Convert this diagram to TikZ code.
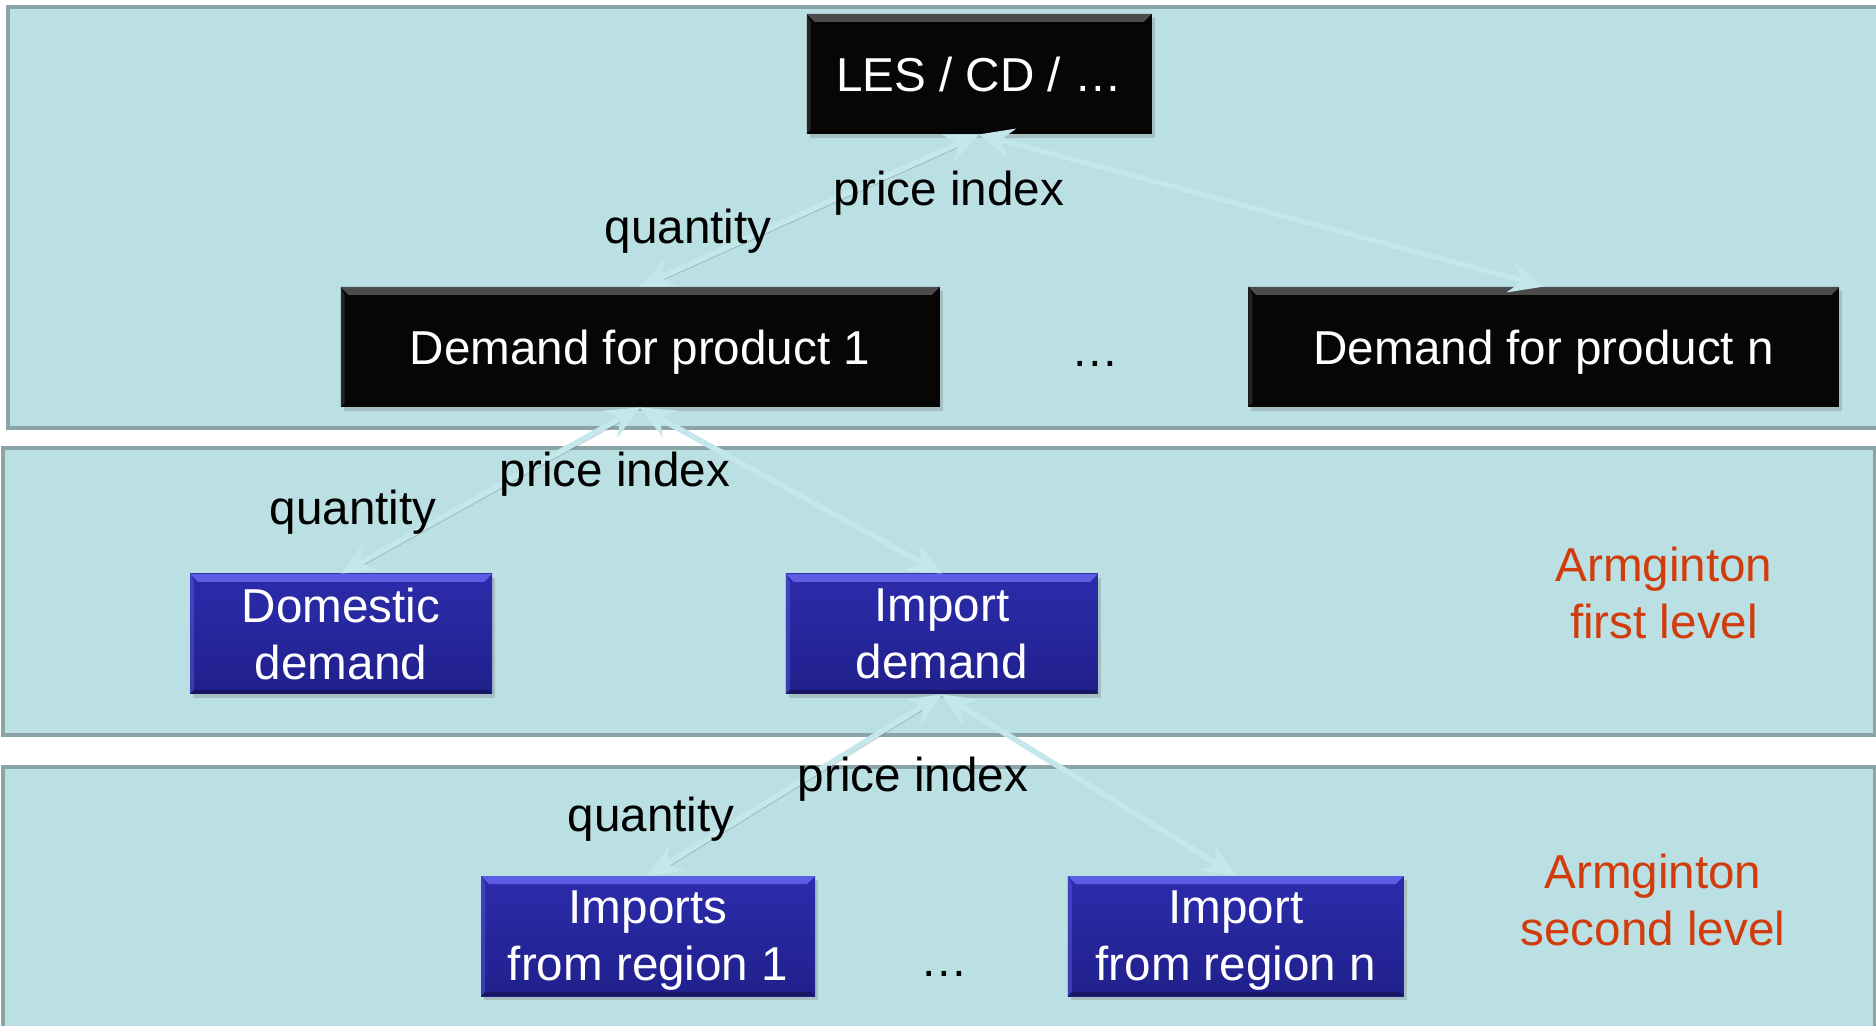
\documentclass[tikz,border=0pt]{standalone}
\usepackage{fontspec}
\setmainfont{Liberation Sans}
\usetikzlibrary{arrows.meta, positioning, shadows}

\definecolor{panelfill}{RGB}{186,224,227}
\definecolor{panelline}{RGB}{138,164,167}
\definecolor{boxblack}{RGB}{6,6,6}
\definecolor{bevelgray}{RGB}{75,75,75}
\definecolor{boxblue}{RGB}{44,44,172}
\definecolor{boxbluedark}{RGB}{32,32,140}
\definecolor{bevelblue}{RGB}{92,92,228}
\definecolor{linkcol}{RGB}{196,231,235}
\definecolor{armred}{RGB}{210,60,12}

\newcommand{\bigfont}{\fontsize{23.8}{28.6}\selectfont}

\tikzset{%
  panel/.style={draw=panelline, fill=panelfill, line width=2pt},
  bevel/.style={
    path picture={
      \fill[#1] (path picture bounding box.north west) -- (path picture bounding box.north east)
        -- ([xshift=-4pt,yshift=-4pt]path picture bounding box.north east)
        -- ([xshift=4pt,yshift=-4pt]path picture bounding box.north west) -- cycle;
      \fill[#1, opacity=.45] (path picture bounding box.north west)
        -- ([xshift=2pt,yshift=-4pt]path picture bounding box.north west)
        -- ([xshift=2pt,yshift=2pt]path picture bounding box.south west)
        -- (path picture bounding box.south west) -- cycle;
      \fill[black, opacity=.3] (path picture bounding box.south west) -- (path picture bounding box.south east)
        -- ([xshift=-2pt,yshift=2pt]path picture bounding box.south east)
        -- ([xshift=2pt,yshift=2pt]path picture bounding box.south west) -- cycle;
    }
  },
  box/.style={
    rectangle,
    minimum height=60pt,
    inner sep=0pt,
    text depth=0pt,
    align=center,
    text=white,
    font=\bigfont,
    drop shadow={shadow xshift=1.5pt, shadow yshift=-2pt, opacity=.35}
  },
  topbox/.style={box, fill=boxblack, bevel=bevelgray},
  subbox/.style={box, top color=boxblue, bottom color=boxbluedark, bevel=bevelblue},
  link/.style={
    <->,
    >={Stealth[length=17pt, width=15pt, inset=6pt]},
    line width=2.8pt,
    draw=linkcol,
    preaction={draw=black, opacity=.22, arrows=-, shorten <=12pt, shorten >=12pt,
      transform canvas={xshift=.8pt, yshift=-1.4pt}}
  },
  lbl/.style={font=\bigfont},
  lvl/.style={font=\bigfont, text=armred, align=center}
}

\begin{document}
\begin{tikzpicture}[x=0.5pt, y=-0.5pt]
  \useasboundingbox (0,0) rectangle (1876,1026);

  % the three bands
  \draw[panel] (8,7) rectangle (1890,428);
  \draw[panel] (3,448) rectangle (1875,735);
  \draw[panel] (3,767) rectangle (1875,1040);

  % top level
  \node[topbox, minimum width=172.5pt] (les) at (979,74) {LES / CD / …};
  \node[topbox, minimum width=299.5pt] (d1) at (640,347) {Demand for product 1};
  \node[topbox, minimum width=295.5pt, right=154pt of d1] (dn) {Demand for product n};
  \node[lbl] (dots1) at (1095,364) {…};

  % first Armington nest
  \node[subbox, minimum width=151pt] (dom) at (341,634) {Domestic\\demand};
  \node[subbox, minimum width=156pt, right=146.5pt of dom] (imp) {Import\\demand};

  % second Armington nest
  \node[subbox, minimum width=167pt] (reg1) at (648,936) {Imports\\from region 1};
  \node[subbox, minimum width=168pt, right=126pt of reg1] (regn) {Import\\from region n};
  \node[lbl] (dots2) at (944,974) {…};

  \draw[link] (d1.north) -- (les.south);
  \draw[link] (dn.north) -- (les.south);
  \draw[link] (dom.north) -- (d1.south);
  \draw[link] (imp.north) -- (d1.south);
  \draw[link] (reg1.north) -- (imp.south);
  \draw[link] (regn.north) -- (imp.south);

  \node[lbl] (pi1) at (949,193) {price index};
  \node[lbl] (q1) at (688,231) {quantity};
  \node[lbl] (pi2) at (615,474) {price index};
  \node[lbl] (q2) at (353,512) {quantity};
  \node[lbl] (pi3) at (913,779) {price index};
  \node[lbl] (q3) at (651,819) {quantity};

  \node[lvl] (lvl1) at (1664,593) {Armginton\\first level};
  \node[lvl] (lvl2) at (1653,900) {Armginton\\second level};
\end{tikzpicture}
\end{document}
